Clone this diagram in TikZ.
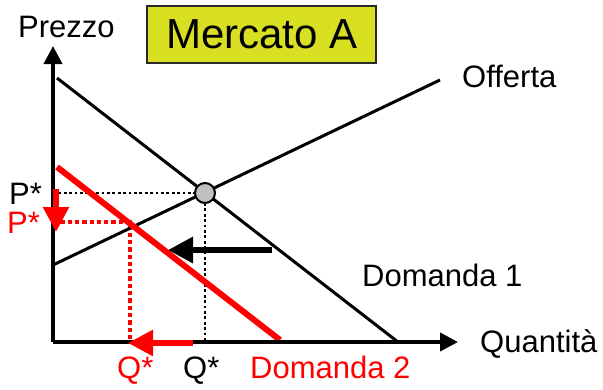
\documentclass[tikz,border=0pt]{standalone}
\usepackage{fontspec}
\setmainfont{Liberation Sans}
\usetikzlibrary{arrows.meta}
\definecolor{boxyellow}{RGB}{217,224,33}
\definecolor{myred}{RGB}{255,0,0}
\tikzset{
  lbl/.style={font=\fontsize{31}{37}\selectfont, inner sep=0pt, anchor=base west},
  axisline/.style={line width=4pt, -{Triangle[length=18pt,width=18pt]}},
  curve/.style={line width=3pt},
  redcurve/.style={line width=6pt, myred},
  blkdots/.style={line width=2.5pt, dash pattern=on 2.7pt off 2.7pt},
  reddots/.style={line width=3.7pt, myred, dash pattern=on 4.3pt off 3pt},
  shiftarrow/.style={line width=5.5pt, -{Triangle[length=25pt,width=25pt]}},
}
\begin{document}
\begin{tikzpicture}[x=1pt,y=-1pt]
\useasboundingbox (0,0) rectangle (603,389);
% coordinates
\coordinate (O) at (53,342);
\coordinate (ytop) at (53,46);
\coordinate (xend) at (458,342);
\coordinate (d1a) at (57,78);
\coordinate (d1b) at (398,342);
\coordinate (sa) at (53,265);
\coordinate (sb) at (440,80);
\coordinate (d2a) at (57,167);
\coordinate (d2b) at (280,340);
\coordinate (py) at (53,193);
\coordinate (qx) at (205,342);
\coordinate (e2) at (130,222);
\coordinate (py2) at (53,222);
\coordinate (qx2) at (130,342);
% dotted guides
\draw[blkdots] (py) -- (195,193);
\draw[blkdots] (205,203) -- (qx);
\draw[reddots] (py2) -- (e2) -- (qx2);
% curves
\draw[curve] (d1a) -- (d1b);
\draw[curve] (sa) -- (sb);
\draw[redcurve] (d2a) -- (d2b);
% axes
\draw[axisline] (O) -- (ytop);
\draw[axisline] (O) -- (xend);
% equilibrium
\node[circle, draw, line width=2pt, fill={rgb,255:red,192;green,192;blue,192}, minimum size=20pt, inner sep=0pt] (eq) at (205,193) {};
% shift arrows
\coordinate (bA) at (272,250);
\coordinate (bB) at (168,250);
\draw[shiftarrow, line width=6pt] (bA) -- (bB);
\coordinate (rA) at (56,189);
\coordinate (rB) at (56,232);
\draw[shiftarrow, myred] (rA) -- (rB);
\coordinate (qA) at (193,343);
\coordinate (qB) at (128,343);
\draw[shiftarrow, myred] (qA) -- (qB);
% title box
\node[draw={rgb,255:red,40;green,40;blue,40}, line width=2pt, fill=boxyellow, minimum width=229pt, minimum height=57pt, inner sep=0pt] (title) at (261.5,34.5) {};
\node[lbl, font=\fontsize{42}{50}\selectfont] (titletext) at (166,48) {Mercato A};
% labels
\node[lbl] (prezzo) at (18,37) {Prezzo};
\node[lbl] (offerta) at (462,87) {Offerta};
\node[lbl] (dom1) at (362,286) {Domanda 1};
\node[lbl] (quant) at (480,352) {Quantità};
\node[lbl, text=myred] (dom2) at (250,378) {Domanda 2};
\node[lbl, text=myred] (q2) at (117,378) {Q*};
\node[lbl] (q1) at (183,378) {Q*};
\node[lbl] (p1) at (9,204) {P*};
\node[lbl, text=myred] (p2) at (7,233) {P*};
\end{tikzpicture}
\end{document}
